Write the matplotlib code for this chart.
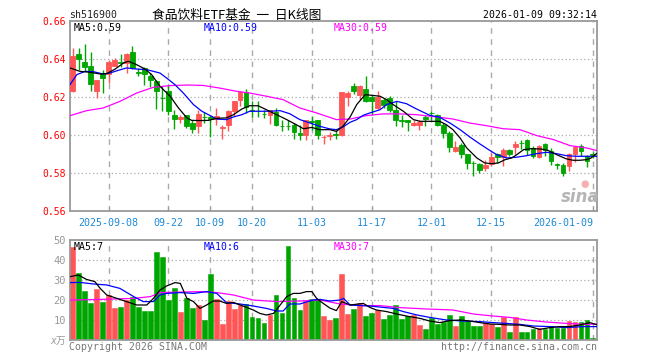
import matplotlib
matplotlib.use('Agg')
import matplotlib.pyplot as plt
import numpy as np

plt.rcParams['font.family'] = ['DejaVu Sans Mono', 'Noto Sans CJK SC']

# ---------------- data ----------------
opens = [0.6232, 0.6428, 0.6386, 0.6365, 0.6233, 0.6321, 0.6321, 0.6365, 0.6386, 0.6379,
         0.6439, 0.6330, 0.6353, 0.6309, 0.6286, 0.6197, 0.6230, 0.6107, 0.6086, 0.6104,
         0.6063, 0.6046, 0.6096, 0.6095, 0.6084, 0.6039, 0.6054, 0.6125, 0.6186, 0.6226,
         0.6133, 0.6126, 0.6113, 0.6107, 0.6119, 0.6050, 0.6047, 0.6054, 0.6011, 0.6002,
         0.6073, 0.6077, 0.5989, 0.5993, 0.6003, 0.6002, 0.6198, 0.6256, 0.6209, 0.6244,
         0.6198, 0.6142, 0.6186, 0.6195, 0.6133, 0.6078, 0.6077, 0.6054, 0.6054, 0.6095,
         0.6117, 0.6107, 0.6054, 0.6011, 0.5914, 0.5949, 0.5902, 0.5854, 0.5849, 0.5826,
         0.5849, 0.5900, 0.5883, 0.5923, 0.5935, 0.5959, 0.5976, 0.5932, 0.5883, 0.5954,
         0.5914, 0.5845, 0.5844, 0.5835, 0.5902, 0.5940, 0.5888, 0.5898]
highs = [0.6456, 0.6460, 0.6481, 0.6439, 0.6291, 0.6344, 0.6396, 0.6407, 0.6428, 0.6430,
         0.6470, 0.6353, 0.6358, 0.6326, 0.6291, 0.6256, 0.6265, 0.6133, 0.6107, 0.6107,
         0.6081, 0.6133, 0.6119, 0.6107, 0.6142, 0.6054, 0.6133, 0.6181, 0.6230, 0.6244,
         0.6177, 0.6177, 0.6133, 0.6133, 0.6142, 0.6081, 0.6081, 0.6063, 0.6054, 0.6081,
         0.6098, 0.6081, 0.6002, 0.6014, 0.6028, 0.6228, 0.6230, 0.6274, 0.6265, 0.6309,
         0.6212, 0.6233, 0.6195, 0.6204, 0.6177, 0.6107, 0.6081, 0.6081, 0.6081, 0.6107,
         0.6125, 0.6112, 0.6063, 0.6019, 0.5967, 0.5958, 0.5902, 0.5862, 0.5853, 0.5870,
         0.5905, 0.5905, 0.5932, 0.5926, 0.5967, 0.5972, 0.5979, 0.5940, 0.5949, 0.5958,
         0.5932, 0.5853, 0.5853, 0.5905, 0.5940, 0.5954, 0.5897, 0.5911]
lows = [0.6228, 0.6340, 0.6335, 0.6230, 0.6195, 0.6221, 0.6274, 0.6361, 0.6358, 0.6326,
        0.6347, 0.6309, 0.6265, 0.6253, 0.6139, 0.6125, 0.6107, 0.6032, 0.6063, 0.6037,
        0.6011, 0.6011, 0.6063, 0.5990, 0.6054, 0.5979, 0.6019, 0.6098, 0.6151, 0.6116,
        0.6095, 0.6095, 0.6090, 0.6060, 0.6046, 0.6019, 0.6028, 0.5979, 0.5976, 0.5976,
        0.6028, 0.5979, 0.5953, 0.5976, 0.5979, 0.5997, 0.6151, 0.6216, 0.6186, 0.6172,
        0.6107, 0.6137, 0.6142, 0.6119, 0.6049, 0.6042, 0.6019, 0.6046, 0.6028, 0.6046,
        0.6081, 0.6046, 0.5984, 0.5909, 0.5909, 0.5879, 0.5821, 0.5786, 0.5800, 0.5809,
        0.5844, 0.5853, 0.5839, 0.5888, 0.5902, 0.5928, 0.5897, 0.5879, 0.5879, 0.5888,
        0.5844, 0.5821, 0.5786, 0.5809, 0.5856, 0.5891, 0.5832, 0.5879]
closes = [0.6416, 0.6400, 0.6358, 0.6268, 0.6288, 0.6300, 0.6386, 0.6396, 0.6379, 0.6428,
          0.6353, 0.6326, 0.6321, 0.6288, 0.6230, 0.6195, 0.6125, 0.6086, 0.6095, 0.6046,
          0.6033, 0.6112, 0.6094, 0.6084, 0.6102, 0.6042, 0.6125, 0.6177, 0.6226, 0.6146,
          0.6125, 0.6124, 0.6111, 0.6130, 0.6054, 0.6049, 0.6046, 0.6016, 0.6002, 0.6077,
          0.6071, 0.6002, 0.5991, 0.6002, 0.6001, 0.6228, 0.6221, 0.6230, 0.6256, 0.6177,
          0.6177, 0.6198, 0.6160, 0.6133, 0.6077, 0.6076, 0.6068, 0.6063, 0.6070, 0.6084,
          0.6114, 0.6054, 0.6011, 0.5935, 0.5935, 0.5902, 0.5853, 0.5852, 0.5814, 0.5844,
          0.5883, 0.5883, 0.5923, 0.5902, 0.5954, 0.5957, 0.5923, 0.5891, 0.5944, 0.5923,
          0.5862, 0.5843, 0.5800, 0.5902, 0.5937, 0.5914, 0.5862, 0.5896]
volumes = [46.7, 33.7, 24.5, 18.7, 25.7, 19.2, 22.5, 16.0, 16.7, 20.0,
           21.3, 16.7, 14.7, 14.7, 44.0, 41.7, 20.0, 26.2, 14.2, 21.0,
           16.2, 17.5, 10.2, 33.2, 20.7, 8.2, 19.7, 15.5, 17.5, 18.0,
           11.5, 11.2, 8.7, 12.5, 22.5, 13.7, 47.0, 21.0, 15.0, 19.7,
           20.3, 20.3, 12.0, 10.0, 11.2, 33.2, 13.0, 15.5, 18.5, 12.0,
           13.5, 15.0, 10.5, 12.5, 17.5, 10.5, 12.0, 12.5, 7.5, 5.5,
           11.0, 8.0, 9.0, 12.5, 7.0, 12.0, 9.5, 7.0, 7.0, 8.5,
           8.0, 6.5, 11.5, 4.0, 11.5, 4.0, 4.0, 5.5, 6.0, 5.5,
           7.0, 6.0, 6.0, 9.5, 9.0, 9.0, 10.0, 1.0]

# moving-average lines: (trading-day position, value)
ma5 = [(-0.45, 0.6353), (1.2, 0.6335), (2.9, 0.6330), (4.6, 0.6321), (5.7, 0.6323), (7.1, 0.6347),
       (8.5, 0.6379), (9.3, 0.6388), (10.7, 0.6370), (12.1, 0.6347), (13.2, 0.6318), (14.6, 0.6256),
       (16.3, 0.6204), (17.7, 0.6142), (19.1, 0.6090), (19.9, 0.6077), (21.3, 0.6076), (22.7, 0.6077),
       (24.1, 0.6088), (25.7, 0.6090), (26.9, 0.6107), (28.3, 0.6137), (29.6, 0.6154), (31.0, 0.6154),
       (32.4, 0.6133), (34.1, 0.6107), (35.8, 0.6081), (37.4, 0.6054), (38.6, 0.6033), (40.0, 0.6040),
       (41.3, 0.6028), (43.0, 0.6028), (44.1, 0.6019), (45.2, 0.6046), (46.4, 0.6095), (47.5, 0.6160),
       (48.9, 0.6212), (50.0, 0.6209), (51.4, 0.6204), (52.5, 0.6186), (53.6, 0.6160), (55.3, 0.6125),
       (57.0, 0.6081), (58.1, 0.6072), (59.7, 0.6072), (61.4, 0.6072), (62.5, 0.6054), (63.6, 0.6028),
       (64.8, 0.5984), (65.9, 0.5932), (67.6, 0.5879), (68.9, 0.5853), (70.1, 0.5849), (71.2, 0.5853),
       (72.3, 0.5870), (73.4, 0.5879), (74.3, 0.5897), (75.4, 0.5923), (76.7, 0.5928), (78.4, 0.5926),
       (79.5, 0.5919), (80.9, 0.5897), (82.6, 0.5874), (83.7, 0.5867), (84.8, 0.5867), (85.9, 0.5870),
       (86.7, 0.5879), (87.6, 0.5902)]
ma10 = [(-0.45, 0.6265), (0.7, 0.6318), (2.1, 0.6335), (3.5, 0.6333), (5.1, 0.6321), (6.2, 0.6326),
        (7.6, 0.6340), (9.0, 0.6353), (10.7, 0.6347), (12.4, 0.6344), (13.5, 0.6335), (14.6, 0.6326),
        (15.7, 0.6300), (17.1, 0.6265), (18.5, 0.6221), (20.2, 0.6160), (21.6, 0.6125), (23.0, 0.6102),
        (24.1, 0.6084), (25.7, 0.6081), (26.9, 0.6095), (28.3, 0.6107), (29.6, 0.6125), (31.3, 0.6125),
        (33.0, 0.6125), (34.7, 0.6128), (36.3, 0.6112), (38.0, 0.6081), (39.7, 0.6063), (41.3, 0.6046),
        (43.0, 0.6032), (44.1, 0.6028), (45.2, 0.6042), (46.4, 0.6067), (47.5, 0.6081), (48.6, 0.6104),
        (49.7, 0.6116), (51.4, 0.6133), (52.5, 0.6160), (54.2, 0.6177), (55.8, 0.6165), (57.5, 0.6137),
        (59.7, 0.6104), (61.4, 0.6093), (63.1, 0.6063), (64.8, 0.6028), (66.4, 0.5990), (68.1, 0.5953),
        (69.8, 0.5918), (70.9, 0.5897), (72.6, 0.5879), (74.2, 0.5883), (75.9, 0.5891), (77.6, 0.5902),
        (79.3, 0.5909), (80.9, 0.5902), (82.6, 0.5891), (84.3, 0.5888), (85.9, 0.5888), (87.6, 0.5888)]
ma30 = [(-0.45, 0.6102), (2.3, 0.6128), (5.1, 0.6142), (7.9, 0.6177), (10.7, 0.6221), (13.5, 0.6251),
        (16.3, 0.6260), (19.1, 0.6263), (21.8, 0.6261), (24.6, 0.6247), (27.4, 0.6230), (29.6, 0.6221),
        (32.4, 0.6204), (35.2, 0.6186), (38.0, 0.6142), (40.8, 0.6116), (44.1, 0.6081), (46.4, 0.6084),
        (49.1, 0.6102), (51.9, 0.6111), (54.7, 0.6111), (57.5, 0.6107), (60.9, 0.6095), (63.6, 0.6084),
        (66.4, 0.6063), (69.2, 0.6049), (72.0, 0.6033), (74.8, 0.6028), (77.6, 0.5997), (80.4, 0.5976),
        (83.2, 0.5944), (85.9, 0.5932), (87.6, 0.5919)]
vma5 = [(-0.4, 31.7), (0.95, 32.5), (2.3, 30.3), (3.7, 29.2), (4.6, 25.8), (5.7, 22.5), (7.4, 20.8),
        (9.0, 19.2), (10.7, 17.5), (12.4, 17.5), (13.5, 20.8), (14.6, 25.0), (15.7, 27.0), (17.1, 28.7),
        (18.0, 28.3), (19.1, 20.8), (20.2, 19.2), (21.3, 15.8), (22.4, 17.5), (23.5, 19.5), (24.6, 19.5),
        (25.7, 18.3), (26.9, 18.8), (28.0, 17.5), (29.1, 16.3), (30.2, 15.0), (31.3, 13.3), (32.4, 12.5),
        (33.6, 13.3), (34.7, 17.5), (35.8, 21.7), (36.9, 23.3), (38.0, 23.3), (39.1, 24.2), (40.0, 24.2),
        (40.8, 20.8), (41.9, 18.3), (43.0, 16.0), (44.1, 14.7), (45.0, 19.2), (46.4, 17.5), (48.6, 18.3),
        (49.7, 16.3), (50.8, 15.0), (52.5, 14.2), (54.2, 13.0), (55.8, 12.0), (58.1, 10.8), (59.7, 9.5),
        (61.4, 8.7), (63.1, 9.7), (64.8, 10.0), (66.4, 9.5), (68.1, 8.7), (69.8, 8.0), (71.5, 7.8),
        (73.1, 7.5), (74.8, 7.5), (76.5, 6.7), (78.1, 5.3), (79.8, 6.2), (81.4, 6.7), (83.1, 6.7),
        (84.8, 7.5), (86.5, 8.7), (87.6, 7.7)]
vma10 = [(-0.4, 28.7), (1.2, 28.8), (3.5, 28.0), (5.7, 27.5), (7.9, 25.8), (10.2, 21.7), (11.8, 19.2),
         (13.5, 19.2), (14.6, 22.5), (15.7, 23.3), (18.0, 23.7), (20.2, 23.3), (22.4, 24.2), (24.1, 23.3),
         (25.7, 18.7), (28.0, 18.0), (30.2, 17.0), (32.4, 15.8), (34.1, 14.5), (35.2, 14.5), (36.3, 18.0),
         (38.0, 18.0), (40.2, 20.0), (41.4, 20.3), (43.0, 19.5), (44.7, 20.0), (45.3, 20.8), (46.4, 17.5),
         (49.7, 17.0), (53.6, 15.8), (55.3, 14.2), (57.6, 12.5), (59.7, 11.3), (62.5, 10.0), (65.3, 9.5),
         (68.1, 9.2), (70.3, 8.7), (72.6, 8.3), (74.8, 7.8), (77.0, 7.0), (79.8, 6.7), (82.6, 6.2),
         (85.3, 6.7), (87.6, 6.7)]
vma30 = [(-0.4, 20.0), (4.6, 20.3), (10.2, 20.8), (13.0, 21.7), (14.6, 23.7), (18.5, 24.0), (21.3, 24.2),
         (24.1, 23.7), (26.9, 22.5), (30.2, 20.0), (34.1, 19.2), (38.0, 19.5), (41.4, 20.0), (44.7, 18.0),
         (48.0, 17.2), (51.4, 17.2), (54.7, 16.2), (59.2, 15.5), (63.6, 15.0), (67.0, 13.0), (70.3, 12.0),
         (73.1, 11.3), (75.9, 10.0), (79.2, 9.0), (82.6, 8.3), (85.9, 7.8), (87.6, 8.0)]

tick_days = [6, 16, 23, 30, 40, 50, 60, 70, 87]
tick_labels = ['2025-09-08', '09-22', '10-09', '10-20', '11-03', '11-17', '12-01', '12-15', '2026-01-09']
price_ticks = [0.56, 0.58, 0.60, 0.62, 0.64, 0.66]
vol_ticks = [0, 10, 20, 30, 40, 50]
vol_tick_labels = ['x万', '10', '20', '30', '40', '50']

# ---------------- style ----------------
RED = '#FF5555'
GREEN = '#00A600'
FRAME = '#999999'
GRID = '#AAAAAA'
DATE_BLUE = '#1E8AD6'
W, H = 660, 360
XMIN, XMAX = -0.45, 87.69


def fx(x):
    return x / W


def fy(y):
    return 1 - y / H


fig = plt.figure(figsize=(W / 100, H / 100), dpi=100)
fig.patch.set_facecolor('white')
ax = fig.add_axes([fx(70), fy(211), 527 / W, 190 / H])
axv = fig.add_axes([fx(70), fy(340), 527 / W, 100 / H])

o = np.array(opens); h = np.array(highs); l = np.array(lows); c = np.array(closes)
v = np.array(volumes)
days = np.arange(len(o))
cols = np.where(c >= o, RED, GREEN)

for a in (ax, axv):
    a.set_xlim(XMIN, XMAX)
    for s in a.spines.values():
        s.set_color(FRAME)
        s.set_linewidth(1.3)
    for t in tick_days:
        a.axvline(t, color=GRID, lw=1.0, ls=(0, (4, 4)), zorder=0)

# main panel
ax.set_ylim(0.56, 0.66)
for p in price_ticks[1:-1]:
    ax.axhline(p, color=GRID, lw=0.9, ls=(0, (1, 2)), zorder=0)
ax.vlines(days, l, h, colors=cols, lw=1.0, zorder=2)
ax.bar(days, np.abs(c - o), width=0.8, bottom=np.minimum(o, c), color=cols,
       edgecolor=cols, linewidth=0.6, zorder=3)
for data, col in ((ma30, '#FF00FF'), (ma10, '#0000FF'), (ma5, '#000000')):
    xs, ys = zip(*data)
    ax.plot(xs, ys, color=col, lw=0.9, zorder=4)

ax.set_yticks(price_ticks)
ax.set_yticklabels([f'{p:.2f}' for p in price_ticks])
ax.tick_params(axis='y', length=0, pad=3, labelcolor='#FF0000', labelsize=7)
ax.set_xticks(tick_days)
ax.set_xticklabels(tick_labels)
ax.tick_params(axis='x', direction='in', length=3, color=FRAME, labelcolor=DATE_BLUE,
               labelsize=7.2, pad=5)
ax.get_xticklabels()[-1].set_ha('right')

# volume panel
axv.set_ylim(0, 50)
for q in vol_ticks[1:-1]:
    axv.axhline(q, color=GRID, lw=0.9, ls=(0, (1, 2)), zorder=0)
axv.bar(days, v, width=0.8, color=cols, edgecolor=cols, linewidth=0.4, zorder=2)
for data, col in ((vma30, '#FF00FF'), (vma10, '#0000FF'), (vma5, '#000000')):
    xs, ys = zip(*data)
    axv.plot(xs, ys, color=col, lw=0.9, zorder=4)
axv.set_yticks(vol_ticks)
axv.set_yticklabels(vol_tick_labels)
axv.tick_params(axis='y', length=0, pad=3, labelcolor='#999999', labelsize=7.5)
axv.get_yticklabels()[0].set_fontsize(7)
axv.get_yticklabels()[0].set_style('italic')
axv.set_xticks(tick_days)
axv.tick_params(axis='x', direction='in', length=3, color=FRAME, labelbottom=False)

# header texts
fig.text(fx(69), fy(15), 'sh516900', fontsize=7.1, color='#222222', ha='left', va='center')
fig.text(fx(237), fy(15), '食品饮料ETF基金  一  日K线图', fontsize=9.2, color='#000000',
         ha='center', va='center', family=['Noto Sans CJK SC', 'DejaVu Sans'])
fig.text(fx(597), fy(15), '2026-01-09 09:32:14', fontsize=7.1, color='#000000', ha='right', va='center')

# MA legends
fig.text(fx(74), fy(28), 'MA5:0.59', fontsize=7.1, color='#000000', ha='left', va='center')
fig.text(fx(204), fy(28), 'MA10:0.59', fontsize=7.1, color='#0000FF', ha='left', va='center')
fig.text(fx(334), fy(28), 'MA30:0.59', fontsize=7.1, color='#FF00FF', ha='left', va='center')
fig.text(fx(74), fy(247), 'MA5:7', fontsize=7.1, color='#000000', ha='left', va='center')
fig.text(fx(204), fy(247), 'MA10:6', fontsize=7.1, color='#0000FF', ha='left', va='center')
fig.text(fx(334), fy(247), 'MA30:7', fontsize=7.1, color='#FF00FF', ha='left', va='center')

# footer
fig.text(fx(69), fy(347), 'Copyright 2026 SINA.COM', fontsize=7.1, color='#777777', ha='left', va='center')
fig.text(fx(597), fy(347), 'http://finance.sina.com.cn', fontsize=7.1, color='#777777', ha='right', va='center')

# watermark
fig.text(fx(580), fy(197), 'sina', fontsize=12, color='#B5B5B5', ha='center', va='center',
         style='italic', weight='bold', family='DejaVu Sans')
fig.text(fx(585), fy(184), '●', fontsize=7, color='#F6B0B0', ha='center', va='center',
         family='DejaVu Sans')

fig.savefig('out.png', dpi=100, facecolor='white')
